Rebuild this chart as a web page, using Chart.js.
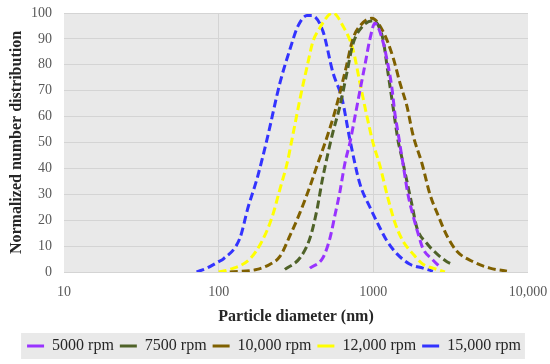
<!DOCTYPE html>
<html>
<head>
<meta charset="utf-8">
<script src="https://cdn.jsdelivr.net/npm/chart.js@4"></script>
<style>
  html, body { margin: 0; padding: 0; background: #fff; }
  canvas { display: block; }
</style>
</head>
<body>
<canvas id="chart" width="550" height="364"></canvas>
<script>
"use strict";

// Values (diameter in nm, normalized count).
const D_5000 = [389, 472, 524, 565, 608, 655, 706, 761, 819, 883, 951, 1024, 1153, 1225, 1319, 1380, 1442, 1553, 1674, 1803, 1943, 2094, 2393, 2695];
const V_5000 = [1.5, 5.5, 13, 22, 31, 42, 50, 60, 70, 80, 90, 96, 89, 82, 71, 61, 54, 42, 30, 22, 15, 9, 5, 2];

const D_7500 = [268, 336, 389, 432, 466, 501, 548, 608, 675, 738, 857, 994, 1153, 1243, 1339, 1442, 1531, 1649, 1776, 1914, 2221, 2576, 2991, 3221];
const V_7500 = [1, 5.5, 13, 24, 35, 44, 54, 64, 77, 88, 95, 97, 90, 77, 64, 51, 44, 35, 26, 17, 11, 7, 4, 3];

const D_10000 = [118, 177, 215, 249, 289, 336, 389, 438, 501, 565, 655, 738, 819, 980, 1153, 1339, 1486, 1649, 1803, 2061, 2323, 2617, 2991, 3470, 4403, 5670, 7307];
const V_10000 = [0, 1, 3, 6, 14, 23, 33, 42, 52, 62, 77, 90, 95, 98, 93, 83, 73, 64, 53, 42, 30, 22, 14, 8, 4, 1.5, 0.3];

const D_12000 = [100, 118, 159, 191, 221, 249, 277, 302, 336, 372, 407, 438, 548, 636, 738, 819, 910, 994, 1104, 1225, 1380, 1553, 1803, 2094, 2428, 2903];
const V_12000 = [0, 1, 5, 12, 21, 32, 42, 53, 67, 79, 89, 93, 100, 95, 86, 73, 60, 50, 41, 30, 19, 12, 7, 3, 1.5, 0];

const D_15000 = [72, 84, 100, 107, 137, 155, 177, 205, 249, 289, 326, 372, 401, 472, 548, 627, 706, 819, 951, 1104, 1225, 1422, 1725, 2094, 2428];
const V_15000 = [0, 1.5, 4, 5, 13, 25, 36, 51, 73, 86, 95, 99, 99, 93, 77, 67, 51, 34, 25, 17, 12, 7, 3, 1.5, 0.3];

const SERIES_LABELS = ["5000 rpm", "7500 rpm", "10,000 rpm", "12,000 rpm", "15,000 rpm"];
const SERIES_COLORS = ["#9933ff", "#4f6228", "#7f6000", "#ffff00", "#3333ff"];
const SERIES_D = [D_5000, D_7500, D_10000, D_12000, D_15000];
const SERIES_V = [V_5000, V_7500, V_10000, V_12000, V_15000];

const X_TICKS = [10, 100, 1000, 10000];
const X_TICK_LABELS = ["10", "100", "1000", "10,000"];
const Y_MIN = 0, Y_MAX = 100, Y_STEP = 10;

const FONT = "'Liberation Serif', 'DejaVu Serif', serif";
const GRID = "#d4d4d4";

// Grey plot background + grey legend strip, drawn under everything else.
const backdrop = {
  id: "backdrop",
  beforeDraw(chart) {
    const { ctx, chartArea: a, legend } = chart;
    ctx.save();
    ctx.fillStyle = "#e9e9e9";
    ctx.fillRect(a.left, a.top, a.right - a.left, a.bottom - a.top);
    const boxes = legend && legend.legendHitBoxes;
    if (boxes && boxes.length) {
      const l = Math.min(...boxes.map((b) => b.left)) - 6;
      const r = Math.max(...boxes.map((b) => b.left + b.width)) + 4;
      const t = Math.min(...boxes.map((b) => b.top)) - 5;
      const btm = Math.max(...boxes.map((b) => b.top + b.height)) + 5;
      ctx.fillRect(l, t, r - l, btm - t);
    }
    ctx.restore();
  },
};

const datasets = SERIES_LABELS.map((label, i) => ({
  label,
  data: SERIES_D[i].map((d, j) => ({ x: d, y: SERIES_V[i][j] })),
  borderColor: SERIES_COLORS[i],
  backgroundColor: SERIES_COLORS[i],
  borderWidth: 3,
  borderDash: [8, 4],
  pointRadius: 0,
  pointStyle: "line",
  cubicInterpolationMode: "monotone",
  fill: false,
}));

new Chart(document.getElementById("chart"), {
  type: "line",
  data: { datasets },
  plugins: [backdrop],
  options: {
    responsive: false,
    animation: false,
    devicePixelRatio: 1,
    layout: { padding: { top: 13, right: 22, left: 20, bottom: 0 } },
    plugins: {
      tooltip: { enabled: false },
      legend: {
        position: "bottom",
        labels: {
          usePointStyle: true,
          pointStyleWidth: 17,
          boxHeight: 12,
          padding: 6,
          color: "#262626",
          font: { family: FONT, size: 16 },
        },
      },
    },
    scales: {
      x: {
        type: "logarithmic",
        min: 10,
        max: 10000,
        afterBuildTicks: (axis) => { axis.ticks = X_TICKS.map((v) => ({ value: v })); },
        afterFit: (axis) => { axis.height = 60; axis.paddingLeft = 0; axis.paddingRight = 0; },
        ticks: {
          autoSkip: false,
          maxRotation: 0,
          padding: 12,
          color: "#595959",
          font: { family: FONT, size: 14 },
          callback: (v) => X_TICK_LABELS[X_TICKS.indexOf(v)] ?? "",
        },
        grid: {
          color: (c) => (c.tick && (c.tick.value === 10 || c.tick.value === 10000) ? "rgba(0,0,0,0)" : GRID),
          drawTicks: false,
        },
        border: { display: false },
        title: {
          display: true,
          text: "Particle diameter (nm)",
          color: "#262626",
          font: { family: FONT, size: 16, weight: "bold" },
          padding: { top: 0, bottom: 6 },
        },
      },
      y: {
        min: Y_MIN,
        max: Y_MAX,
        afterFit: (axis) => { axis.width = 44; axis.paddingTop = 0; axis.paddingBottom = 0; },
        ticks: {
          stepSize: Y_STEP,
          padding: 12,
          color: "#595959",
          font: { family: FONT, size: 14 },
        },
        grid: { color: GRID, drawTicks: false },
        border: { display: false },
        title: {
          display: true,
          text: "Normalized number distribution",
          color: "#262626",
          font: { family: FONT, size: 16, weight: "bold" },
          padding: { top: -12.6, bottom: 0 },
        },
      },
    },
  },
});
</script>
</body>
</html>
